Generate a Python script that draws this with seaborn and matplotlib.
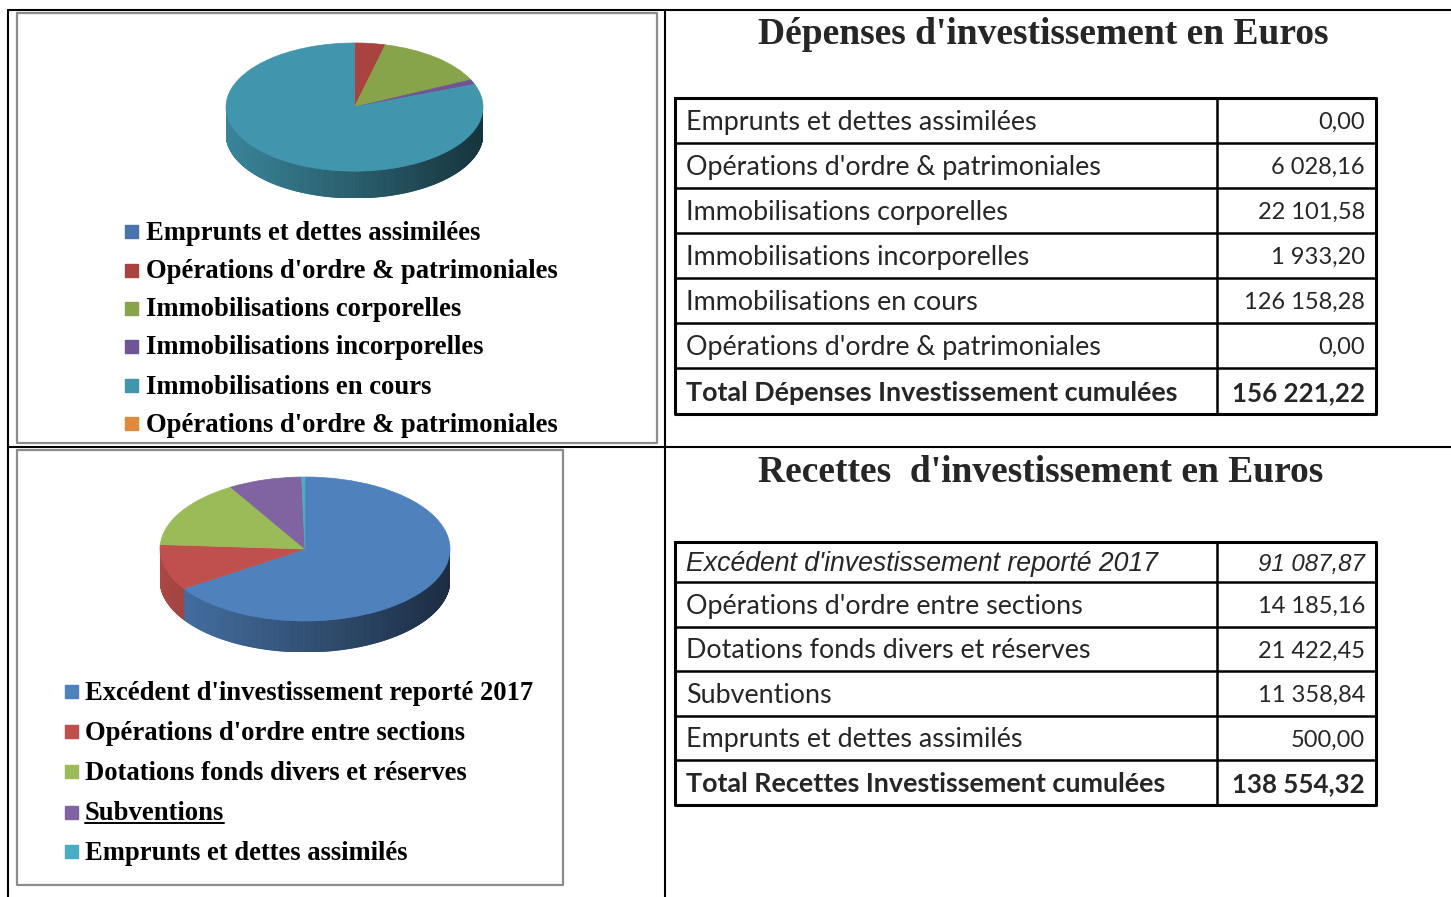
import numpy as np
import matplotlib
matplotlib.use("Agg")
import matplotlib.pyplot as plt
from matplotlib.collections import PolyCollection
from matplotlib.colors import to_rgb
import seaborn as sns

# --- data -------------------------------------------------------------
dep_labels = ["Emprunts et dettes assimilées",
              "Opérations d'ordre & patrimoniales",
              "Immobilisations corporelles",
              "Immobilisations incorporelles",
              "Immobilisations en cours",
              "Opérations d'ordre & patrimoniales"]
dep_values = [0.00, 6028.16, 22101.58, 1933.20, 126158.28, 0.00]
dep_total_label = "Total Dépenses Investissement cumulées"
dep_total = 156221.22
dep_colors = ["#4A74AA", "#A8433F", "#87A44B", "#6F5596", "#4196AE", "#E08A3C"]

rec_labels = ["Excédent d'investissement reporté 2017",
              "Opérations d'ordre entre sections",
              "Dotations fonds divers et réserves",
              "Subventions",
              "Emprunts et dettes assimilés"]
rec_values = [91087.87, 14185.16, 21422.45, 11358.84, 500.00]
rec_total_label = "Total Recettes Investissement cumulées"
rec_total = 138554.32
rec_colors = ["#4F81BD", "#C0504D", "#9BBB59", "#8064A2", "#4BACC6"]

dep_title = "Dépenses d'investissement en Euros"
rec_title = "Recettes  d'investissement en Euros"

W, H = 1451, 897

sns.set_theme(style="white")
plt.rcParams["font.family"] = ["Liberation Serif", "DejaVu Sans"]

fig = plt.figure(figsize=(W / 100, H / 100), dpi=100)
fig.patch.set_facecolor("white")

# overlay axes in pixel coordinates (y downwards)
ov = fig.add_axes([0, 0, 1, 1])
ov.set_xlim(0, W)
ov.set_ylim(H, 0)
ov.axis("off")


def px_axes(x0, y0, x1, y1):
    return fig.add_axes([x0 / W, 1 - y1 / H, (x1 - x0) / W, (y1 - y0) / H])


def fr(v):
    return f"{v:,.2f}".replace(",", " ").replace(".", ",")


def pie3d(box, values, colors, depth):
    ax = px_axes(*box)
    wedges, _ = ax.pie(values, colors=colors, startangle=90, counterclock=False,
                       radius=1, wedgeprops=dict(linewidth=0))
    for w, v in zip(wedges, values):
        if v > 0:
            w.set_edgecolor(w.get_facecolor())
            w.set_linewidth(0.5)
    # side wall of the front half, shaded left (light) to right (dark)
    polys, cols = [], []
    for w, v, c in zip(wedges, values, colors):
        if v <= 0:
            continue
        t1, t2 = w.theta1 % 360, w.theta2 % 360
        if t2 <= t1:
            t2 += 360
        for off in (0, 360, -360):
            a, b = max(t1 + off, 180), min(t2 + off, 360)
            if b <= a:
                continue
            ts = np.radians(np.linspace(a, b, max(int(b - a) * 2, 2)))
            base = np.array(to_rgb(c))
            for i in range(len(ts) - 1):
                c0, s0 = np.cos(ts[i]), np.sin(ts[i])
                c1, s1 = np.cos(ts[i + 1]), np.sin(ts[i + 1])
                polys.append([(c0, s0), (c1, s1), (c1, s1 - depth), (c0, s0 - depth)])
                xm = (c0 + c1) / 2
                f = np.clip(0.62 - 0.27 * xm, 0.33, 1)
                cols.append(base * f)
    pc = PolyCollection(polys, facecolors=cols, edgecolors=cols, linewidths=0.6, zorder=0.5)
    ax.add_collection(pc)
    ax.set_aspect("auto")
    ax.set_xlim(-1, 1)
    ax.set_ylim(-1 - depth, 1)
    ax.axis("off")
    return ax


# --- outer grid ---------------------------------------------------------
lw_grid = 1.5
ov.plot([8, W], [10, 10], color="black", lw=lw_grid)
ov.plot([8, W], [447, 447], color="black", lw=lw_grid)
ov.plot([8, 8], [10, H], color="black", lw=lw_grid)
ov.plot([665, 665], [10, H], color="black", lw=lw_grid)

# chart frames
gray = "#8C8C8C"
for x0, y0, x1, y1 in [(17, 13, 657, 443), (17, 450, 563, 885)]:
    ov.plot([x0, x1, x1, x0, x0], [y0, y0, y1, y1, y0], color=gray, lw=1.6)

# --- pies ---------------------------------------------------------------
pie3d((226, 43, 483, 198), dep_values, dep_colors, 27 / 64.5)
pie3d((160, 477, 450, 652), rec_values, rec_colors, 31 / 72)

# --- legends ------------------------------------------------------------
leg_font = dict(family=["Liberation Serif", "DejaVu Serif"], weight="bold", fontsize=19.2)
dep_rows = [231, 270, 308, 346, 385, 423]
for lab, col, y in zip(dep_labels, dep_colors, dep_rows):
    ov.add_patch(plt.Rectangle((125, y - 6), 13, 13, color=col))
    ov.text(146, y + 2, lab, va="center", ha="left", color="black", **leg_font)

rec_rows = [691, 731, 771, 812, 851]
rec_texts = []
for lab, col, y in zip(rec_labels, rec_colors, rec_rows):
    ov.add_patch(plt.Rectangle((65, y - 6), 13, 13, color=col))
    rec_texts.append(ov.text(85, y + 2, lab, va="center", ha="left", color="black", **leg_font))

# --- titles -------------------------------------------------------------
title_font = dict(family=["Liberation Serif", "DejaVu Serif"], weight="bold", fontsize=27)
ov.text(1043, 34, dep_title, ha="center", va="center", **title_font)
ov.text(1041, 472, rec_title, ha="center", va="center", **title_font)


# --- tables -------------------------------------------------------------
def draw_table(edges, labels, values, total_label, total, italic_first=False):
    xl, xm, xr = 675, 1217, 1376
    for y in edges[1:-1]:
        ov.plot([xl, xr], [y, y], color="black", lw=1.8, solid_capstyle="butt")
    ov.plot([xm, xm], [edges[0], edges[-1]], color="black", lw=1.8)
    ov.plot([xl, xr, xr, xl, xl], [edges[0], edges[0], edges[-1], edges[-1], edges[0]],
            color="black", lw=2.2)
    rows = list(zip(labels, values)) + [(total_label, total)]
    for i, (lab, v) in enumerate(rows):
        yc = (edges[i] + edges[i + 1]) / 2 + 2
        if i == len(rows) - 1:
            lf = dict(family=["Lato", "DejaVu Sans"], weight="bold", fontsize=19.4)
            vf = dict(family=["Lato", "DejaVu Sans"], weight="bold", fontsize=18.6)
        elif i == 0 and italic_first:
            lf = dict(family=["Liberation Sans", "DejaVu Sans"], style="italic", fontsize=19.2)
            vf = dict(family=["Liberation Sans", "DejaVu Sans"], style="italic", fontsize=17.3)
        else:
            lf = dict(family=["Lato", "DejaVu Sans"], fontsize=19.4)
            vf = dict(family=["Lato", "DejaVu Sans"], fontsize=17)
        ov.text(686, yc, lab, ha="left", va="center", **lf)
        ov.text(1365, yc, fr(v), ha="right", va="center", **vf)


draw_table([98, 143, 188, 233, 278, 323, 368, 414], dep_labels, dep_values,
           dep_total_label, dep_total)
draw_table([542, 582, 627, 671, 716, 760, 805], rec_labels, rec_values,
           rec_total_label, rec_total, italic_first=True)

# underline "Subventions"
fig.canvas.draw()
bb = rec_texts[3].get_window_extent()
inv = ov.transData.inverted()
(ux0, uy0), (ux1, _) = inv.transform([(bb.x0, bb.y0), (bb.x1, bb.y0)])
ov.plot([ux0, ux1], [uy0 - 3, uy0 - 3], color="black", lw=1.4)

fig.savefig("out.png", dpi=100)
